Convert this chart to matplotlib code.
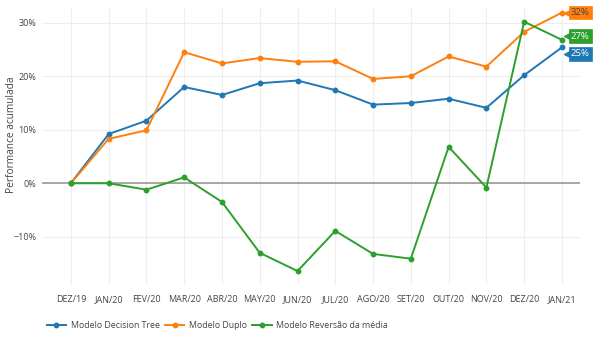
import matplotlib

matplotlib.use("Agg")
import matplotlib.pyplot as plt
from matplotlib.lines import Line2D

plt.rcParams["font.family"] = ["Open Sans", "DejaVu Sans"]

months = ["DEZ/19", "JAN/20", "FEV/20", "MAR/20", "ABR/20", "MAY/20", "JUN/20",
          "JUL/20", "AGO/20", "SET/20", "OUT/20", "NOV/20", "DEZ/20", "JAN/21"]

# cumulative performance, %
decision_tree = [0.0, 9.2, 11.7, 18.0, 16.5, 18.7, 19.2, 17.4, 14.7, 15.0, 15.8, 14.1, 20.2, 25.4]
duplo = [0.0, 8.3, 9.9, 24.5, 22.4, 23.4, 22.7, 22.8, 19.5, 20.0, 23.7, 21.8, 28.3, 31.9]
reversao = [0.0, 0.0, -1.2, 1.1, -3.5, -13.0, -16.4, -8.9, -13.2, -14.1, 6.8, -0.8, 30.2, 26.8]

# name, values, line colour, tag text colour, tag vertical nudge
series = [
    ("Modelo Decision Tree", decision_tree, "#1f77b4", "white", -1.2),
    ("Modelo Duplo", duplo, "#ff7f0e", "#444444", 0.0),
    ("Modelo Reversão da média", reversao, "#2ca02c", "white", 0.7),
]

fig = plt.figure(figsize=(5.97, 3.38), dpi=100)
ax = fig.add_axes([0.070, 0.157, 0.901, 0.820])

x = list(range(len(months)))
for name, vals, color, _, _ in series:
    ax.plot(x, vals, color=color, lw=1.4, marker="o", ms=3.2, label=name, zorder=3)

# end-of-series value tags (small flag with a pointer on the left)
for name, vals, color, tcolor, dy in series:
    ty = vals[-1] + dy
    ax.plot([x[-1] + 0.14], [ty], marker="<", ms=4, color=color, mec=color,
            zorder=5, clip_on=False)
    ax.text(x[-1] + 0.24, ty, f"{vals[-1]:.0f}%", ha="left", va="center",
            fontsize=6.8, color=tcolor, zorder=6, clip_on=False,
            bbox=dict(boxstyle="square,pad=0.25", fc=color, ec=color, lw=0.5))

ax.axhline(0, color="#a0a0a0", lw=1.3, zorder=2)
ax.set_xlim(-0.77, 13.47)
ax.set_ylim(-19, 32.8)
ax.set_xticks(x)
ax.set_xticklabels(months)
ax.set_yticks([-10, 0, 10, 20, 30])
ax.set_yticklabels(["−10%", "0%", "10%", "20%", "30%"])
ax.grid(True, color="#eeeeee", lw=0.8)
ax.set_axisbelow(True)
for s in ax.spines.values():
    s.set_visible(False)
ax.tick_params(length=0, labelsize=6.5, colors="#444444", pad=4)
ax.tick_params(axis="x", pad=7)
fig.text(0.02, 0.60, "Performance acumulada", rotation=90, ha="center", va="center",
         fontsize=7.3, color="#444444")

handles = [Line2D([], [], color=c, lw=1.4, marker="o", ms=3.2) for _, _, c, _, _ in series]
fig.legend(handles, [n for n, *_ in series], loc="lower left", bbox_to_anchor=(0.065, 0.0),
           ncol=3, frameon=False, fontsize=6.3, handlelength=2.2, columnspacing=0.6,
           handletextpad=0.55, labelcolor="#444444")

fig.savefig("out.png", dpi=100)
